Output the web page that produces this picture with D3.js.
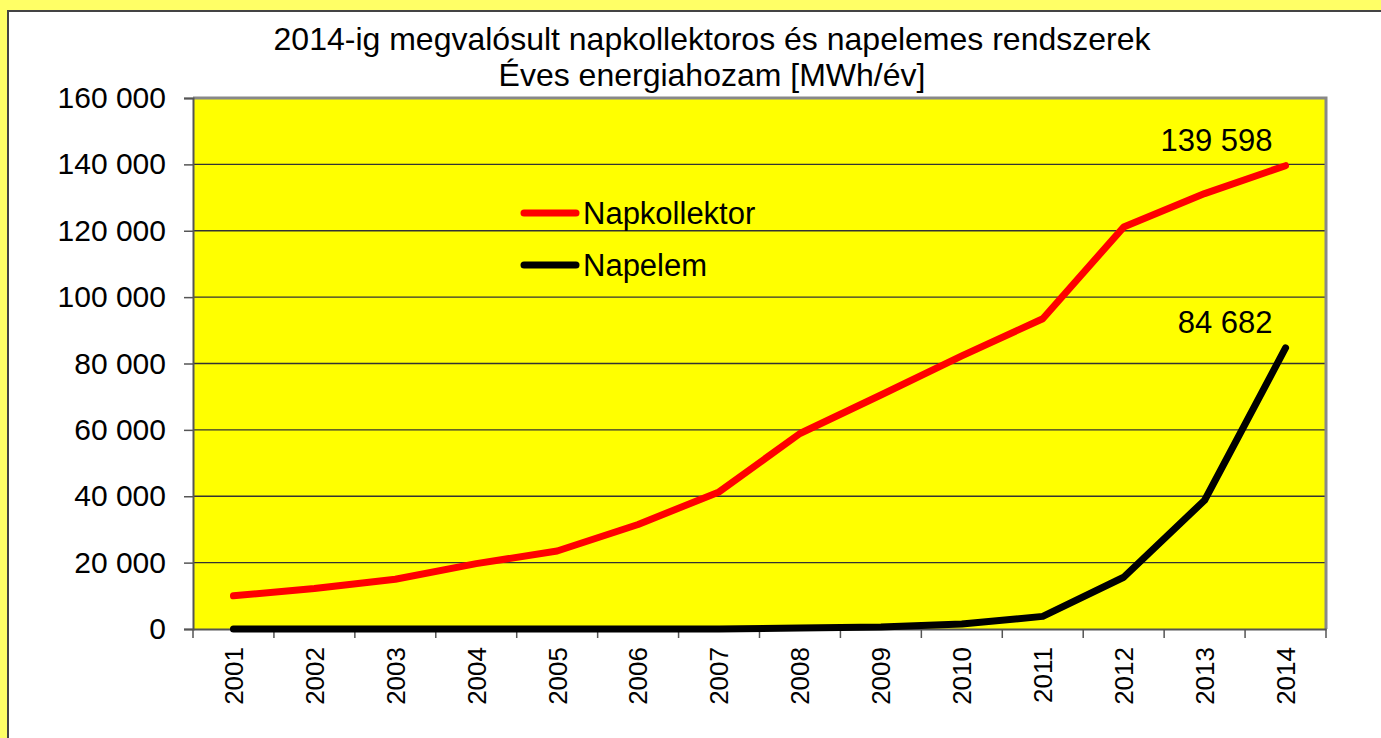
<!DOCTYPE html>
<html>
<head>
<meta charset="utf-8">
<script src="https://cdn.jsdelivr.net/npm/d3@7"></script>
<style>
  html, body { margin: 0; padding: 0; background: #ffff66; overflow: hidden; }
  svg { display: block; font-family: "Liberation Sans", Arial, sans-serif; }
</style>
</head>
<body>
<div id="chart"></div>
<script>
const years = ["2001", "2002", "2003", "2004", "2005", "2006", "2007",
  "2008", "2009", "2010", "2011", "2012", "2013", "2014"];
const napkollektor = [10000, 12200, 15000, 19700, 23500, 31500, 41300,
  58900, 70500, 82300, 93500, 121100, 131200, 139598];
const napelem = [0, 0, 0, 0, 0, 0, 0, 300, 600, 1500, 3800, 15600, 38800, 84682];
const yTicks = [0, 20000, 40000, 60000, 80000, 100000, 120000, 140000, 160000];
const titleLines = ["2014-ig megvalósult napkollektoros és napelemes rendszerek",
  "Éves energiahozam [MWh/év]"];
const seriesNames = ["Napkollektor", "Napelem"];
const seriesColors = ["#ff0000", "#000000"];

function drawChart() {
  const width = 1381;
  const height = 738;
  const margin = { top: 98, right: 55, bottom: 109, left: 193 };

  const svg = d3.select("#chart")
    .append("svg")
    .attr("width", width)
    .attr("height", height);

  // outer white frame
  svg.append("rect")
    .attr("x", 8).attr("y", 11)
    .attr("width", width + 20).attr("height", height + 20)
    .attr("fill", "#fff")
    .attr("stroke", "#444")
    .attr("stroke-width", 2);

  const x = d3.scaleBand()
    .domain(years)
    .range([margin.left, width - margin.right]);

  const y = d3.scaleLinear()
    .domain([0, 160000])
    .range([height - margin.bottom, margin.top]);

  const fmt = v => d3.format(",")(v).replace(/,/g, " ");

  // plot area
  svg.append("rect")
    .attr("x", margin.left).attr("y", margin.top)
    .attr("width", x.range()[1] - margin.left)
    .attr("height", y(0) - margin.top)
    .attr("fill", "#ffff00");

  // gridlines
  svg.append("g")
    .selectAll("line")
    .data(yTicks.filter(d => d > 0 && d < 160000))
    .join("line")
    .attr("x1", margin.left).attr("x2", x.range()[1])
    .attr("y1", d => y(d)).attr("y2", d => y(d))
    .attr("stroke", "#333")
    .attr("stroke-width", 1.3);

  // plot border top/right
  svg.append("path")
    .attr("d", `M${margin.left},${y(160000)}H${x.range()[1]}V${y(0)}`)
    .attr("fill", "none")
    .attr("stroke", "#888")
    .attr("stroke-width", 3);

  // y axis
  const yAxis = svg.append("g")
    .attr("transform", `translate(${margin.left},0)`)
    .call(d3.axisLeft(y).tickValues(yTicks).tickFormat(fmt).tickSize(9).tickPadding(18));
  yAxis.select(".domain").attr("stroke", "#555").attr("stroke-width", 2);
  yAxis.selectAll(".tick line").attr("stroke", "#555").attr("stroke-width", 1.5);
  yAxis.selectAll("text").attr("font-size", 30).attr("fill", "#000")
    .attr("font-family", "Liberation Sans, Arial, sans-serif");

  // x axis
  const xAxis = svg.append("g")
    .attr("transform", `translate(0,${y(0)})`)
    .call(d3.axisBottom(x).tickSize(0).tickPadding(0));
  xAxis.select(".domain").attr("stroke", "#555").attr("stroke-width", 2);
  xAxis.selectAll(".tick text")
    .attr("font-size", 26)
    .attr("fill", "#000")
    .attr("font-family", "Liberation Sans, Arial, sans-serif")
    .attr("transform", "rotate(-90)")
    .attr("text-anchor", "end")
    .attr("x", -18)
    .attr("y", 0)
    .attr("dy", "0.36em");

  const bounds = years.map(d => x(d)).concat([x.range()[1]]);
  svg.append("g")
    .selectAll("line")
    .data(bounds)
    .join("line")
    .attr("x1", d => d).attr("x2", d => d)
    .attr("y1", y(0)).attr("y2", y(0) + 9)
    .attr("stroke", "#555")
    .attr("stroke-width", 1.5);

  // lines
  const line = d3.line()
    .x((d, i) => x(years[i]) + x.bandwidth() / 2)
    .y(d => y(d));

  [napkollektor, napelem].forEach((series, k) => {
    svg.append("path")
      .datum(series)
      .attr("d", line)
      .attr("fill", "none")
      .attr("stroke", seriesColors[k])
      .attr("stroke-width", 7)
      .attr("stroke-linejoin", "round")
      .attr("stroke-linecap", "round");
  });

  // end labels
  const last = years.length - 1;
  [napkollektor, napelem].forEach(series => {
    svg.append("text")
      .attr("x", x(years[last]) + x.bandwidth() / 2 - 13)
      .attr("y", y(series[last]) - 15)
      .attr("text-anchor", "end")
      .attr("font-size", 31)
      .text(fmt(series[last]));
  });

  // legend
  const legend = svg.append("g").attr("transform", "translate(524,213)");
  seriesNames.forEach((name, k) => {
    const g = legend.append("g").attr("transform", `translate(0,${k * 52})`);
    g.append("line")
      .attr("x1", 0).attr("x2", 52)
      .attr("stroke", seriesColors[k])
      .attr("stroke-width", 7)
      .attr("stroke-linecap", "round");
    g.append("text")
      .attr("x", 59)
      .attr("dy", "0.36em")
      .attr("font-size", 31)
      .text(name);
  });

  // title
  svg.append("g")
    .selectAll("text")
    .data(titleLines)
    .join("text")
    .attr("x", 712)
    .attr("y", (d, i) => 50 + i * 36)
    .attr("text-anchor", "middle")
    .attr("font-size", 32)
    .text(d => d);
}

drawChart();
</script>
</body>
</html>
